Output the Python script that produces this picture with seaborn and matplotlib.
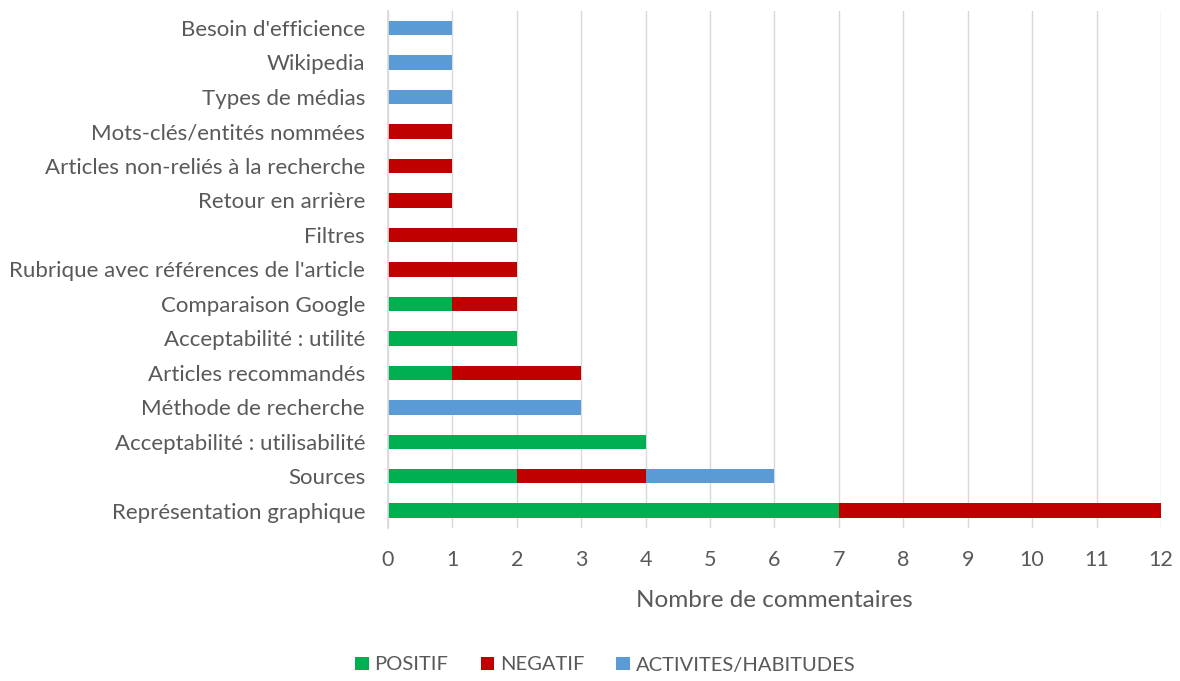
import matplotlib
matplotlib.use("Agg")
import matplotlib.pyplot as plt
import seaborn as sns
import pandas as pd
import numpy as np
from matplotlib.patches import Patch

categories = [
    "Besoin d'efficience", "Wikipedia", "Types de médias",
    "Mots-clés/entités nommées", "Articles non-reliés à la recherche",
    "Retour en arrière", "Filtres", "Rubrique avec références de l'article",
    "Comparaison Google", "Acceptabilité : utilité", "Articles recommandés",
    "Méthode de recherche", "Acceptabilité : utilisabilité", "Sources",
    "Représentation graphique",
]
positif = [0, 0, 0, 0, 0, 0, 0, 0, 1, 2, 1, 0, 4, 2, 7]
negatif = [0, 0, 0, 1, 1, 1, 2, 2, 1, 0, 2, 0, 0, 2, 5]
activites = [1, 1, 1, 0, 0, 0, 0, 0, 0, 0, 0, 3, 0, 2, 0]
series_names = ["POSITIF", "NEGATIF", "ACTIVITES/HABITUDES"]
colors = ["#00B050", "#C00000", "#5B9BD5"]
x_ticks = list(range(0, 13))

sns.set_theme(style="white")
plt.rcParams["font.family"] = ["Lato", "DejaVu Sans"]

df = pd.DataFrame({"cat": categories, "P": positif, "N": negatif, "A": activites})
df["PN"] = df["P"] + df["N"]
df["T"] = df["PN"] + df["A"]

fig = plt.figure(figsize=(11.8, 6.81), dpi=100)
ax = fig.add_axes([0.3288, 0.2247, 0.6551, 0.7595])

w = 0.42
for col, c in zip(["T", "PN", "P"], [colors[2], colors[1], colors[0]]):
    sns.barplot(data=df, y="cat", x=col, color=c, width=w, ax=ax, orient="h",
                saturation=1, zorder=3, linewidth=0, edgecolor="none")

txt = "#595959"
ax.set_xlim(0, 12)
ax.set_ylim(len(categories) - 0.5, -0.5)
ax.set_xticks(x_ticks)
ax.set_xticklabels([str(t) for t in x_ticks], fontsize=15.5, color=txt)
ax.tick_params(axis="y", labelsize=16, labelcolor=txt, length=0, pad=16.5)
ax.tick_params(axis="x", length=0, pad=16)
ax.set_ylabel("")
ax.set_xlabel("Nombre de commentaires", fontsize=17.5, color=txt, labelpad=14)
ax.grid(axis="x", color="#D9D9D9", linewidth=1, zorder=0)
for s in ["top", "right", "bottom"]:
    ax.spines[s].set_visible(False)
ax.spines["left"].set_color("#D9D9D9")
ax.spines["left"].set_zorder(4)

handles = [Patch(facecolor=c, edgecolor="none") for c in colors]
fig.legend(handles, series_names, loc="center", bbox_to_anchor=(0.513, 1 - 665 / 681),
           ncol=3, frameon=False, fontsize=14.5, handlelength=0.65, handleheight=0.65,
           columnspacing=1.6, handletextpad=0.3, labelcolor=txt)

fig.savefig("out.png", dpi=100)
